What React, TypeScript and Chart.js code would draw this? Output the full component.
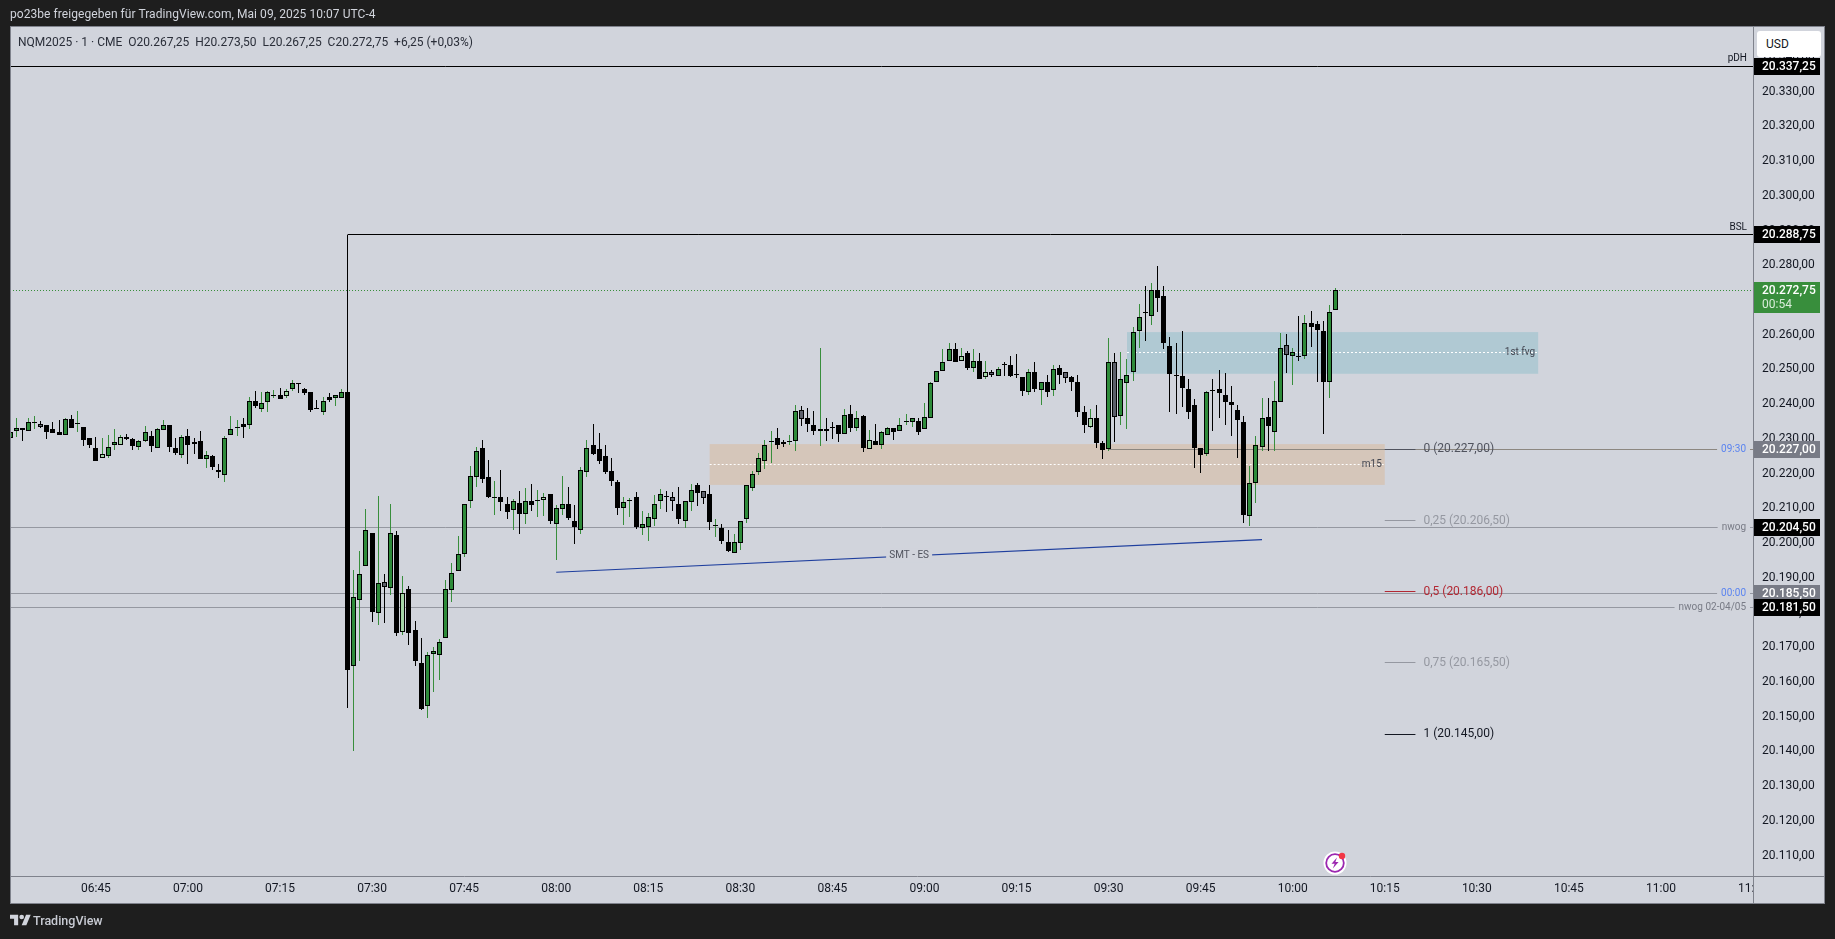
import React, { useEffect, useRef } from "react";
import { Chart, registerables } from "chart.js";

Chart.register(...registerables);

const PRICE_BASE = 20000;
const FIRST_MINUTE = 6 * 60 + 31;
const LAST_MINUTE = 11 * 60 + 15;

const openOffsets = [
  230.25,232.25,233,232.25,234.5,234.25,234,232.75,232,231.25,
  235.75,234.25,233.5,230.25,227.5,224.5,225,228.25,228.25,230.5,
  230,227.75,229.25,230.75,227.5,232.5,234,227.25,225.5,230.75,
  229,229.25,224.25,225,221,219.5,231,233,234.25,234,
  241,238.75,240.5,242.25,242.75,242.25,244.5,245.75,244.5,243.5,
  239,237.75,242,241.75,241.75,243.5,164.75,183.5,193.5,203,
  180,188.75,187,202.25,174.5,186.75,175,165.5,153,168,
  167.75,172.75,186.5,192,196.75,212,219,227.25,219,213,
  213.25,211.25,209.5,211.5,208.25,212,212.25,212.5,214,205.5,
  209.75,211.25,206.5,203.75,220.5,228.25,227,225,220.75,217.5,
  210,212,213.25,204.25,204.75,207,212.25,213.25,213.25,211.25,
  206.5,211.75,216.75,215,214,205,204.25,200.25,197.25,200,
  207,215.75,220.5,223.75,229,230.25,229,229,229.25,238.25,
  236,234,232.25,232.75,233.5,234,231.5,237.25,233,236.5,
  227,229.5,228.25,231.25,233.25,232.25,235,234.75,235.25,232.75,
  236,246.25,249.5,252.5,255.75,252.5,254.75,250.5,252.5,247.75,
  249.25,248,251.25,251.25,248.5,247.75,243.5,249.25,244,246.25,
  244,250.5,249.25,247.75,246.5,237.75,233.5,236,228.75,227,
  252.25,236.5,246,249.25,261,266.25,265.5,272.75,271.25,256.75,
  248.25,248,244.5,239.75,227.5,225.75,243.75,244.25,242.75,240.5,
  238.25,235,207.75,217.25,227.75,236.25,232,240.5,257,254,
  254,253.75,263.5,263,261,246.25,267.25,
];
const highOffsets = [
  232,236,233,236,236.5,235.25,234,234.75,235.5,236,
  237,238,233.5,230.25,230.5,230.25,231,232.75,231,231.5,
  230.25,229.75,233.75,232.25,233,235.5,234,230.25,231,232.75,
  230.25,232.25,226.5,225.5,222.75,230.75,236.5,235.5,236,242,
  243.75,243.5,243.75,244,244.75,244.25,247,246,244.75,243.5,
  241.25,242,243.25,242.75,244.25,288.75,192.25,197.75,209.75,203,
  213.5,191,211.25,203.5,190.5,187.75,177.5,172.75,168.75,170,
  172.5,189.5,194.25,202,211.25,222.25,227.75,229.75,224,218,
  221,213.25,212.75,215,215.75,217,215.25,214.5,214.25,211,
  219.25,216.25,211,222,229.75,234.25,231.75,228.25,224.5,218.25,
  213.25,213,214.75,209.25,208.75,213.75,215.5,215,214.75,216.25,
  212.25,217,217.25,215,216.75,207,205.5,203.75,202.75,206.5,
  216.75,220.75,226,229.75,232.25,233.25,229.75,231,239.75,239.5,
  239,238,256.25,236,234.75,234,238.5,239.75,238,236.75,
  232.5,234.25,232.25,233.5,233.25,236,237.25,236,236,240.25,
  246.5,249.5,255.75,257.5,257.5,256.25,255.25,255.75,254.75,252.5,
  249.75,250.75,252,254,254.5,247.75,250.25,252,246.5,248.5,
  251.25,251.25,249.25,248,248.5,239.5,238.75,239.75,229.5,259,
  254.75,255,253,262.25,268.75,274,275,279.75,274,259.25,
  257.5,261,247.25,241.5,227.5,243.75,247.25,249.75,249,245.25,
  239.75,236.5,222.25,230.75,241.75,241.75,246.75,260.5,260.25,256.25,
  265.5,265.75,266.75,264,264,268.5,273.5,
];
const lowOffsets = [
  230.25,230.5,229.5,232.25,232.75,233.25,230,231.75,231,231.25,
  233,232,228,227.25,223.75,224.5,224.5,226.75,228.25,229.75,
  226.75,226.75,229,226.25,227.5,232.5,226.25,225.5,224.5,222.75,
  225.75,224.25,221.75,221,218.75,217.5,231,230.75,230.25,232.75,
  239,237.75,237.75,241.75,241.5,241.75,243.75,243.25,242.75,237.75,
  238.5,236.75,240.5,239.5,241.75,152.5,140.25,166,193.5,177.25,
  176.5,177,185,173.25,173.5,170.75,164.5,152,149.75,157.25,
  160.5,172.75,183,192,196,210,216.25,217.25,213,208,
  209.25,207,203.75,202.75,205.5,209.25,207.5,207.75,205.5,195.25,
  208,206.75,199.75,202.75,219,225.25,222.75,220,216.5,208,
  205.25,207.5,204,202.25,200.5,205,209.75,209,209.25,205.5,
  204.25,209.25,210.75,211.25,203.75,201.75,199.75,197.5,197.25,198,
  205.75,215,219.5,221.25,223,227,227.75,228.25,226.5,233.75,
  232,231,228,229.5,230,229,231.5,232,232.25,226.25,
  227,228.25,227,231,229.75,232.25,234,233.5,231,232.75,
  236,246.25,249.5,252.5,252.25,252.5,249.75,249.25,247.25,247.25,
  247.75,248,248,247.75,247.5,242.25,242.75,243.5,239.75,242,
  242.25,245.75,246,243.75,236.25,231.75,233.25,227.5,224.25,226.5,
  229,234,232.75,246.75,256.25,258.25,262.75,266.5,255.75,237.75,
  237.25,239.25,235.75,221.5,220.25,225,232.25,236,234,230.75,
  224.5,205.75,205,211.5,226.5,226.5,226.5,240.5,249,245.5,
  252.5,253,256.5,246.5,231.5,241.75,267.25,
];
const closeOffsets = [
  232,233.25,232.5,235,234.5,233.5,232,231.75,231,235.75,
  233.25,234.25,229.75,228.25,223.75,225.75,227.75,229,230.5,230,
  228,229.25,232,228,232.75,234,227.75,226,230.5,228.25,
  228.5,224.25,225.25,222,220.5,230.25,232.75,233,233.5,241,
  239.5,240.25,243.5,242.25,241.5,243.75,246,245.75,243.25,238.25,
  238.5,241,241.25,242.75,243.5,163.5,184.5,191,203.75,180.25,
  188.5,187.25,203,174,185.75,174.25,166,152.25,167.75,169,
  171.5,186.75,191.25,196.75,211.25,219.25,226.5,218.5,213.25,213,
  211.75,209,212.25,208.25,212,211,212.25,213.25,206.5,210,
  211.25,207.25,204.5,221,227.25,225.75,223.5,220.5,217.75,210,
  211.75,212,204.5,205.5,207.5,211.25,214,213.25,212,207,
  212.25,215.25,214.5,213,206,205,200.5,197.75,200.25,206.5,
  216.75,220,224.5,228.25,229,228.25,228.5,229.5,238,235.75,
  234.25,232.25,232.75,232.25,233,231.5,236.75,233.25,236,227.5,
  229.75,228.25,232,233.25,232,234,235,236,232,236.25,
  246,249.5,252,255.75,252.25,254,250.5,252.5,247.25,249.25,
  248.5,250.25,251.25,248.25,248.5,243.75,249.25,244.25,246.25,243.5,
  250,248.5,247.5,246.25,237.75,234,236,228.75,226.75,252.25,
  236.25,247.25,248.5,260.75,265,266.25,272.75,270.5,257.5,248.75,
  248.25,244.75,237.75,227.25,225.25,243.5,243.75,243.25,240.75,239.75,
  235.5,208,217.25,228.25,236,233.75,241,256.25,254.25,255,
  253.5,263.5,262.25,261.25,246.5,266.5,272.75,
];

// bar times with a special look, as minute-of-session offsets from 07:00
const greenDojiBars = [-25, -18, 8, 14, 50, 57, 72, 86, 95, 117];
const paleBars = [-14, -11, 16, 35, 58, 111, 126, 130, 147];
const greyBars = [-24, 1, 21, 32, 79, 84, 97, 100, 104, 105, 131, 143, 151, 179];

const boldTimeTicks = ["07:00", "08:00", "09:00", "10:00", "11:00"];
const timeTicks = [
  "06:45", "07:00", "07:15", "07:30", "07:45", "08:00", "08:15", "08:30", "08:45",
  "09:00", "09:15", "09:30", "09:45", "10:00", "10:15", "10:30", "10:45", "11:00", "11:15",
];

const pad = (n: number) => String(n).padStart(2, "0");
const clock = (t: number) => `${pad(Math.floor(t / 60))}:${pad(t % 60)}`;
const timeCategories: string[] = [];
for (let t = FIRST_MINUTE; t <= LAST_MINUTE; t++) timeCategories.push(clock(t));

const opens = openOffsets.map((v) => PRICE_BASE + v);
const highs = highOffsets.map((v) => PRICE_BASE + v);
const lows = lowOffsets.map((v) => PRICE_BASE + v);
const closes = closeOffsets.map((v) => PRICE_BASE + v);

const PDH = 20337.25;
const BSL = 20288.75;
const LAST = 20272.75;
const OPEN_0930 = 20227;
const NWOG = 20204.5;
const OPEN_0000 = 20185.5;
const NWOG_OLD = 20181.5;
const fibLevels = [20227, 20206.5, 20186, 20165.5, 20145];
const fibNames = ["0", "0,25", "0,5", "0,75", "1"];
const fibColors = ["#50535e", "#9598a1", "#b22833", "#9598a1", "#131722"];

const orangeZone = { from: "08:25", to: "10:15", top: 20228.5, bottom: 20216.75 };
const blueZone = { from: "09:33", to: "10:40", top: 20260.75, bottom: 20248.75 };
const smtLine = { from: "08:00", to: "09:55", start: 20191.6, end: 20201 };
const fibFrom = "10:15";
const fibTo = "10:20";

const ink = "#131722";
const paneBg = "#d1d4dc";
const frameColor = "#7f828c";
const hLineColor = "#9598a1";
const upColor = "#2e8b3a";
const upWick = "#388e3c";
const paleColor = "#a5d6a7";
const greyColor = "#5d606b";
const blue = "#5b84f0";

const priceText = (v: number) => {
  const [i, d] = v.toFixed(2).split(".");
  return `${i.slice(0, 2)}.${i.slice(2)},${d}`;
};

const isGreen = (i: number) => {
  const m = i - 29;
  if (greyBars.includes(m)) return false;
  if (closes[i] > opens[i]) return true;
  return greenDojiBars.includes(m);
};

const fillFor = (i: number) => {
  const m = i - 29;
  if (greyBars.includes(m)) return greyColor;
  if (paleBars.includes(m)) return paleColor;
  if (closes[i] > opens[i]) return upColor;
  return "#000000";
};

const snap = (v: number) => Math.round(v) + 0.5;

const overlay = {
  id: "overlay",
  afterDatasetsUpdate(chart: any) {
    chart.data.datasets.forEach((_: any, d: number) => {
      chart.getDatasetMeta(d).data.forEach((el: any) => {
        el.x = snap(el.x - 0.5);
        el.y = Math.round(el.y);
        el.base = Math.round(el.base);
        if (Math.abs(el.y - el.base) < 1) el.base = el.y + 1;
      });
    });
  },
  beforeDraw(chart: any) {
    const c = chart.ctx;
    c.save();
    c.fillStyle = "#1e1e1e";
    c.fillRect(0, 0, chart.width, chart.height);
    c.fillStyle = paneBg;
    c.fillRect(10, 27, 1814, 876);
    c.restore();
  },
  beforeDatasetsDraw(chart: any) {
    const c = chart.ctx;
    const x = chart.scales.x;
    const y = chart.scales.y;
    const a = chart.chartArea;
    const tx = (t: string) => x.getPixelForValue(timeCategories.indexOf(t));
    const hLine = (p: number, x0: number, x1: number, color: string, dash: number[] = []) => {
      const py = snap(y.getPixelForValue(p) - 0.5);
      c.strokeStyle = color;
      c.lineWidth = 1;
      c.setLineDash(dash);
      c.beginPath();
      c.moveTo(x0, py);
      c.lineTo(x1, py);
      c.stroke();
      c.setLineDash([]);
    };
    // cover the part of the last time label that runs under the price axis
    c.save();
    c.fillStyle = paneBg;
    c.fillRect(a.right + 1, a.bottom + 1, 70, 26);
    c.restore();

    c.save();
    c.beginPath();
    c.rect(a.left, a.top, a.right - a.left, a.bottom - a.top);
    c.clip();

    const zone = (z: any, color: string) => {
      const x0 = tx(z.from);
      const x1 = tx(z.to);
      const t = y.getPixelForValue(z.top);
      const b = y.getPixelForValue(z.bottom);
      c.fillStyle = color;
      c.fillRect(x0, t, x1 - x0, b - t);
      hLine((z.top + z.bottom) / 2, x0, x1, "#ffffff", [2, 2]);
    };
    zone(orangeZone, "#d5c6ba");
    zone(blueZone, "#b0c9d3");

    hLine(PDH, a.left, a.right, "#000000");
    hLine(BSL, tx("07:26"), a.right, "#000000");
    hLine(LAST, a.left, a.right, upWick, [1, 2]);
    hLine(OPEN_0930, tx("09:30"), a.right, "#8c8780");
    hLine(NWOG, a.left, a.right, hLineColor);
    hLine(OPEN_0000, a.left, a.right, hLineColor);
    hLine(NWOG_OLD, a.left, a.right, hLineColor);

    // line-end labels with a gap in the line
    c.textBaseline = "middle";
    c.font = "10px Roboto";
    c.textAlign = "right";
    const endLabel = (p: number, text: string, color: string) => {
      const py = y.getPixelForValue(p);
      const w = c.measureText(text).width;
      c.fillStyle = paneBg;
      c.fillRect(a.right - 7 - w - 4, py - 2, w + 8, 5);
      c.fillStyle = color;
      c.fillText(text, a.right - 7, py);
    };
    endLabel(OPEN_0930, "09:30", blue);
    endLabel(NWOG, "nwog", "#787b86");
    endLabel(OPEN_0000, "00:00", blue);
    endLabel(NWOG_OLD, "nwog 02-04/05", "#787b86");
    c.fillStyle = "#131722";
    c.fillText("pDH", a.right - 6, y.getPixelForValue(PDH) - 8);
    c.fillText("BSL", a.right - 6, y.getPixelForValue(BSL) - 7);

    // fib segments and labels
    fibLevels.forEach((p, i) => {
      hLine(p, tx(fibFrom), tx(fibTo), fibColors[i]);
      c.font = "12px Roboto";
      c.textAlign = "left";
      c.fillStyle = fibColors[i];
      c.fillText(`${fibNames[i]} (${priceText(p)})`, tx(fibTo) + 8, y.getPixelForValue(p));
    });

    // zone captions
    c.font = "10px Roboto";
    c.textAlign = "right";
    c.fillStyle = "#434651";
    c.fillText("1st fvg", tx(blueZone.to) - 3, y.getPixelForValue((blueZone.top + blueZone.bottom) / 2));
    c.fillText("m15", tx(orangeZone.to) - 3, y.getPixelForValue((orangeZone.top + orangeZone.bottom) / 2));

    // SMT line, broken by its caption
    const sx0 = tx(smtLine.from);
    const sx1 = tx(smtLine.to);
    const sy0 = y.getPixelForValue(smtLine.start);
    const sy1 = y.getPixelForValue(smtLine.end);
    c.strokeStyle = "#1f3f9e";
    c.lineWidth = 1.2;
    c.beginPath();
    c.moveTo(sx0, sy0);
    c.lineTo(sx1, sy1);
    c.stroke();
    const mx = (sx0 + sx1) / 2;
    const my = (sy0 + sy1) / 2;
    c.fillStyle = paneBg;
    c.fillRect(mx - 23, my - 7, 46, 14);
    c.font = "10px Roboto";
    c.textAlign = "center";
    c.fillStyle = "#50535e";
    c.fillText("SMT - ES", mx, my);
    c.restore();
  },
  afterDraw(chart: any) {
    const c = chart.ctx;
    const y = chart.scales.y;
    const a = chart.chartArea;
    c.save();
    // frame and axis separators
    c.strokeStyle = frameColor;
    c.lineWidth = 1;
    c.strokeRect(10.5, 26.5, 1814, 877);
    c.beginPath();
    c.moveTo(a.right + 0.5, 27);
    c.lineTo(a.right + 0.5, 903);
    c.moveTo(11, a.bottom + 0.5);
    c.lineTo(1824, a.bottom + 0.5);
    c.stroke();

    const tag = (p: number, bg: string, sub?: string) => {
      const py = y.getPixelForValue(p);
      const h = sub ? 31 : 17;
      const top = Math.round(py - 8.5);
      c.fillStyle = bg;
      c.fillRect(a.right + 1, top, 66, h);
      c.fillStyle = "#ffffff";
      c.font = "500 12px Roboto";
      c.textAlign = "left";
      c.textBaseline = "middle";
      c.fillText(priceText(p), a.right + 9, top + 8.5);
      if (sub) {
        c.fillStyle = "#d8ecd9";
        c.font = "12px Roboto";
        c.fillText(sub, a.right + 9, top + 23);
      }
    };
    tag(PDH, "#000000");
    tag(BSL, "#000000");
    tag(LAST, "#388e3c", "00:54");
    tag(OPEN_0930, "#787b86");
    tag(NWOG, "#000000");
    tag(OPEN_0000, "#787b86");
    tag(NWOG_OLD, "#000000");
    c.restore();
  },
};

const textBase: React.CSSProperties = {
  position: "absolute",
  fontFamily: "Roboto, sans-serif",
  whiteSpace: "pre",
  lineHeight: "16px",
};

export default function App() {
  const ref = useRef<HTMLCanvasElement>(null);

  useEffect(() => {
    const range = opens.map((_, i) => i);
    const chart = new Chart(ref.current as HTMLCanvasElement, {
      type: "bar",
      data: {
        labels: timeCategories,
        datasets: [
          {
            label: "wicks",
            data: range.map((i) => [lows[i], highs[i]]),
            backgroundColor: range.map((i) => (isGreen(i) ? upWick : "#000000")),
            barThickness: 1,
            borderWidth: 0,
            inflateAmount: 0,
            grouped: false,
            order: 2,
          },
          {
            label: "bodies",
            data: range.map((i) => [opens[i], closes[i]]),
            backgroundColor: range.map(fillFor),
            borderColor: "#000000",
            borderWidth: 1,
            borderSkipped: false,
            barThickness: 5,
            minBarLength: 1,
            inflateAmount: 0,
            grouped: false,
            order: 1,
          },
        ] as any,
      },
      options: {
        responsive: false,
        animation: false,
        devicePixelRatio: 1,
        events: [],
        layout: { padding: { left: 10, top: 27, right: 11, bottom: 36 } },
        plugins: { legend: { display: false }, title: { display: false }, tooltip: { enabled: false } },
        scales: {
          x: {
            type: "category",
            offset: false,
            grid: { display: false, drawTicks: false },
            border: { display: false },
            afterFit: (s: any) => {
              s.height = 27;
            },
            ticks: {
              autoSkip: false,
              maxRotation: 0,
              minRotation: 0,
              padding: 6,
              color: ink,
              font: (ctx: any) => ({
                family: "Roboto",
                size: 12,
                weight: boldTimeTicks.includes(timeCategories[ctx.index]) ? "bold" : "normal",
              }),
              callback: (_v: any, i: number) =>
                timeTicks.includes(timeCategories[i]) ? timeCategories[i] : null,
            },
          },
          y: {
            position: "right",
            min: 20104.14,
            max: 20348.6,
            grid: { display: false, drawTicks: false },
            border: { display: false },
            afterFit: (s: any) => {
              s.width = 71;
            },
            afterBuildTicks: (s: any) => {
              s.ticks = s.ticks.filter((t: any) => Math.abs(t.value % 10) < 1e-6);
            },
            ticks: {
              stepSize: 10,
              padding: 9,
              color: ink,
              font: { family: "Roboto", size: 12 },
              callback: (v: any) => priceText(Number(v)),
            },
          },
        },
      } as any,
      plugins: [overlay as any],
    });
    return () => chart.destroy();
  }, []);

  return (
    <div style={{ position: "fixed", left: 0, top: 0, width: 1835, height: 939, overflow: "hidden" }}>
      <canvas ref={ref} width={1835} height={939} style={{ display: "block" }} />
      <div style={{ ...textBase, left: 10, top: 6, fontSize: 12, letterSpacing: 0.06, color: "#d1d4dc" }}>
        po23be freigegeben für TradingView.com, Mai 09, 2025 10:07 UTC-4
      </div>
      <div style={{ ...textBase, left: 18, top: 34, fontSize: 12, color: "#2a2e39" }}>
        {"NQM2025 · 1 · CME  O20.267,25  H20.273,50  L20.267,25  C20.272,75  +6,25 (+0,03%)"}
      </div>
      <div
        style={{
          ...textBase,
          left: 1757,
          top: 31,
          width: 55,
          height: 26,
          paddingLeft: 9,
          lineHeight: "26px",
          background: "#ffffff",
          borderRadius: 3,
          fontSize: 12,
          color: ink,
        }}
      >
        USD
      </div>
      <svg style={{ position: "absolute", left: 10, top: 912 }} width="21" height="17" viewBox="0 0 36 28" fill="#d1d4dc">
        <path d="M14 22H7V11H0V4h14v18ZM28 22h-8l7.5-18h8L28 22Z" />
        <circle cx="20" cy="8" r="4" />
      </svg>
      <div style={{ ...textBase, left: 33, top: 913, fontSize: 12.5, fontWeight: 500, color: "#c8cbd3" }}>TradingView</div>
      <svg style={{ position: "absolute", left: 1323, top: 851 }} width="24" height="24" viewBox="0 0 24 24">
        <circle cx="12" cy="12" r="11.5" fill="#ffffff" />
        <circle cx="12" cy="12" r="8.8" fill="none" stroke="#9c27b0" strokeWidth="1.8" />
        <path d="M14 6.5 8.5 12.8h3.2L9.8 17.5l5.8-6.4h-3.2Z" fill="#9c27b0" />
        <circle cx="19" cy="5" r="3.2" fill="#f23645" />
      </svg>
    </div>
  );
}
